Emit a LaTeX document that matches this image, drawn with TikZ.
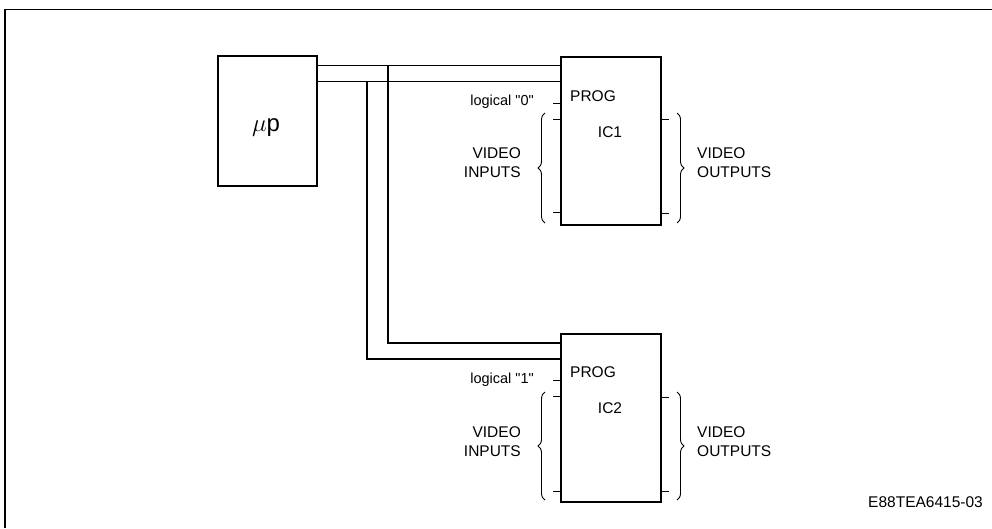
\documentclass[tikz,border=0pt]{standalone}
\usepackage{fontspec}
\setmainfont{Liberation Sans}
\usetikzlibrary{positioning,calc,decorations.pathreplacing}

\tikzset{
    chip/.style={draw, line width=1.2pt, minimum width=100pt, minimum height=168pt, inner sep=0pt},
    bus/.style={line width=1.1pt},
    pin/.style={line width=1pt},
    vbrace/.style={decorate, decoration={brace, amplitude=7pt}, line width=0.9pt},
    lbl/.style={font=\fontsize{15.5}{19}\selectfont, inner sep=0pt},
    small/.style={font=\fontsize{14.5}{18}\selectfont, inner sep=0pt}
}

\begin{document}
\begin{tikzpicture}[x=1pt, y=-1pt]
    \useasboundingbox (0,0) rectangle (992,528);

    % Frame
    \draw[line width=1.4pt] (5,528) -- (5,9.5) -- (992,9.5);

    % Processor
    \node[draw, line width=1.2pt, minimum width=99pt, minimum height=130pt] (up) at (267.5,121) {};
    \node[font=\fontsize{24}{24}\selectfont, inner sep=0pt] (uptext) at (266,128) {$\mu$p};

    % Circuits
    \node[chip] (ic1) at (611,141) {};
    \node[chip] (ic2) at (611,418) {};

    % Bus to IC1
    \coordinate (ba) at (up.east |- 0,65.7);
    \coordinate (bb) at (up.east |- 0,81.7);
    \draw[bus] (ba) -- (ba -| ic1.west);
    \draw[bus] (bb) -- (bb -| ic1.west);

    % Bus to IC2
    \coordinate (ta) at (388,65.7);
    \coordinate (tb) at (367,81.7);
    \draw[bus] (ta) |- (ic2.west |- 0,343);
    \draw[bus] (tb) |- (ic2.west |- 0,359);

    % IC1 labels
    \node[lbl, anchor=west] (prog1) at (570,96) {PROG};
    \node[lbl] (name1) at (610,132) {IC1};
    \node[small, anchor=east] (log1) at (534,102) {logical \textquotedbl0\textquotedbl};
    \node[lbl, anchor=east, align=right] (vin1) at (521,163) {VIDEO\\INPUTS};
    \node[lbl, anchor=west, align=left] (vout1) at (697,163) {VIDEO\\OUTPUTS};

    % IC1 pins
    \foreach \yy in {103,119,212}
        \draw[pin] (553,\yy) -- (ic1.west |- 0,\yy);
    \foreach \yy in {119,213}
        \draw[pin] (ic1.east |- 0,\yy) -- (669,\yy);
    \draw[vbrace] (545,223) -- (545,113);
    \draw[vbrace] (677,113) -- (677,223);

    % IC2 labels
    \node[lbl, anchor=west] (prog2) at (570,372) {PROG};
    \node[lbl] (name2) at (610,408) {IC2};
    \node[small, anchor=east] (log2) at (534,380) {logical \textquotedbl1\textquotedbl};
    \node[lbl, anchor=east, align=right] (vin2) at (521,442) {VIDEO\\INPUTS};
    \node[lbl, anchor=west, align=left] (vout2) at (697,442) {VIDEO\\OUTPUTS};

    % IC2 pins
    \foreach \yy in {380,396,491}
        \draw[pin] (553,\yy) -- (ic2.west |- 0,\yy);
    \foreach \yy in {397,491}
        \draw[pin] (ic2.east |- 0,\yy) -- (669,\yy);
    \draw[vbrace] (545,500) -- (545,392);
    \draw[vbrace] (677,392) -- (677,500);

    % Figure code
    \node[lbl, anchor=east] (code) at (983,502) {E88TEA6415-03};
\end{tikzpicture}
\end{document}
